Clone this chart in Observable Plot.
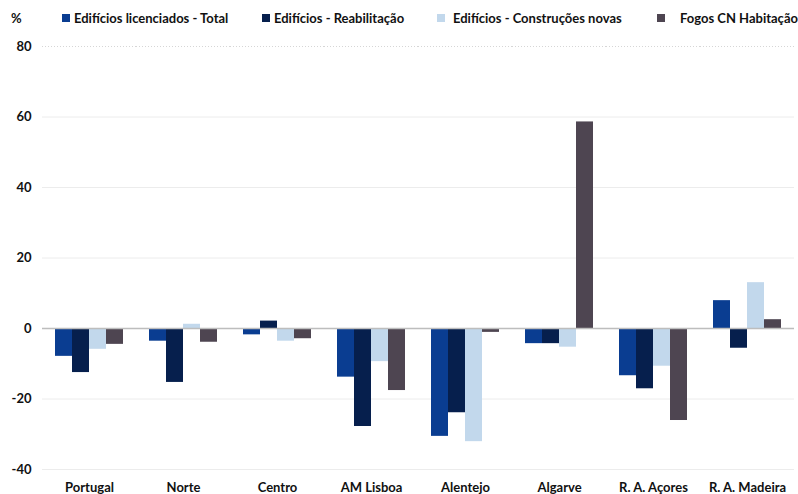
<!DOCTYPE html>
<html><head><meta charset="utf-8">
<script src="https://cdn.jsdelivr.net/npm/d3@7"></script>
<script src="https://cdn.jsdelivr.net/npm/@observablehq/plot@0.6"></script>
<style>
body{margin:0;background:#fff;font-family:Lato,"Open Sans",sans-serif;}
#wrap{position:relative;width:798px;height:494px;}
#legend{position:absolute;left:0;top:0;width:798px;height:34px;font-weight:bold;font-size:13px;color:#111;}
.it{position:absolute;top:10px;white-space:nowrap;display:flex;align-items:center;}
.sw{display:inline-block;width:8px;height:8px;margin-right:5px;}
#chart{position:absolute;left:0;top:34px;}
</style></head><body>
<div id="wrap"><div id="legend"></div><div id="chart"></div></div>
<script>
const categories = ["Portugal","Norte","Centro","AM Lisboa","Alentejo","Algarve","R. A. Açores","R. A. Madeira"];
const series = ["Edifícios licenciados - Total","Edifícios - Reabilitação","Edifícios - Construções novas","Fogos CN Habitação"];
const colors = ["#0a3d91","#061f4d","#c2d8ec","#4e4551"];
const total = [-7.9,-3.6,-1.8,-13.8,-30.6,-4.3,-13.4,7.9];
const reab = [-12.5,-15.3,2.1,-27.8,-23.9,-4.3,-17.1,-5.6];
const novas = [-5.9,1.2,-3.6,-9.4,-32.1,-5.3,-10.7,13.0];
const fogos = [-4.5,-3.9,-2.9,-17.6,-1.1,58.6,-26.1,2.5];
const yTicks = [-40,-20,0,20,40,60,80];

const valuesBySeries = [total, reab, novas, fogos];
const data = [];
categories.forEach((c,i)=>series.forEach((s,j)=>data.push({cat:c, s, v:valuesBySeries[j][i]})));

// legend
const leg = document.getElementById("legend");
const pct = document.createElement("div"); pct.className="it"; pct.style.left="11px"; pct.textContent="%"; leg.appendChild(pct);
const lx = [62,262,437,657];
const gap = [4,4,8,15];
series.forEach((s,j)=>{
  const d=document.createElement("div"); d.className="it"; d.style.left=lx[j]+"px";
  d.innerHTML=`<span class="sw" style="background:${colors[j]};margin-right:${gap[j]}px"></span>${s}`;
  leg.appendChild(d);
});

const chart = Plot.plot({
  width: 798, height: 460,
  marginTop: 12, marginBottom: 25, marginLeft: 40, marginRight: 2,
  style: {fontFamily: "Lato, 'Open Sans', sans-serif", fontSize: "13px", fontWeight: "bold", color: "#111", background: "#fff"},
  fx: {domain: categories, padding: 0, label: null, axis: "bottom", tickSize: 0, tickPadding: 13},
  x: {domain: series, axis: null, paddingInner: 0, paddingOuter: 0.74},
  y: {domain: [-40, 80], ticks: yTicks, label: null, tickSize: 0, tickPadding: 11, tickFormat: d=>String(d)},
  color: {domain: series, range: colors},
  marks: [
    Plot.ruleY(yTicks.filter(t=>t!==0 && t!==80), {stroke:"#ececec", strokeWidth:1}),
    Plot.ruleY([80], {stroke:"#d6d6d6", strokeDasharray:"1,2"}),
    Plot.barY(data, {fx:"cat", x:"s", y:"v", fill:"s", insetLeft:0, insetRight:0}),
    Plot.ruleY([0], {stroke:"#bdbdbd", strokeWidth:1.5})
  ]
});
document.getElementById("chart").appendChild(chart);
</script>
</body></html>
